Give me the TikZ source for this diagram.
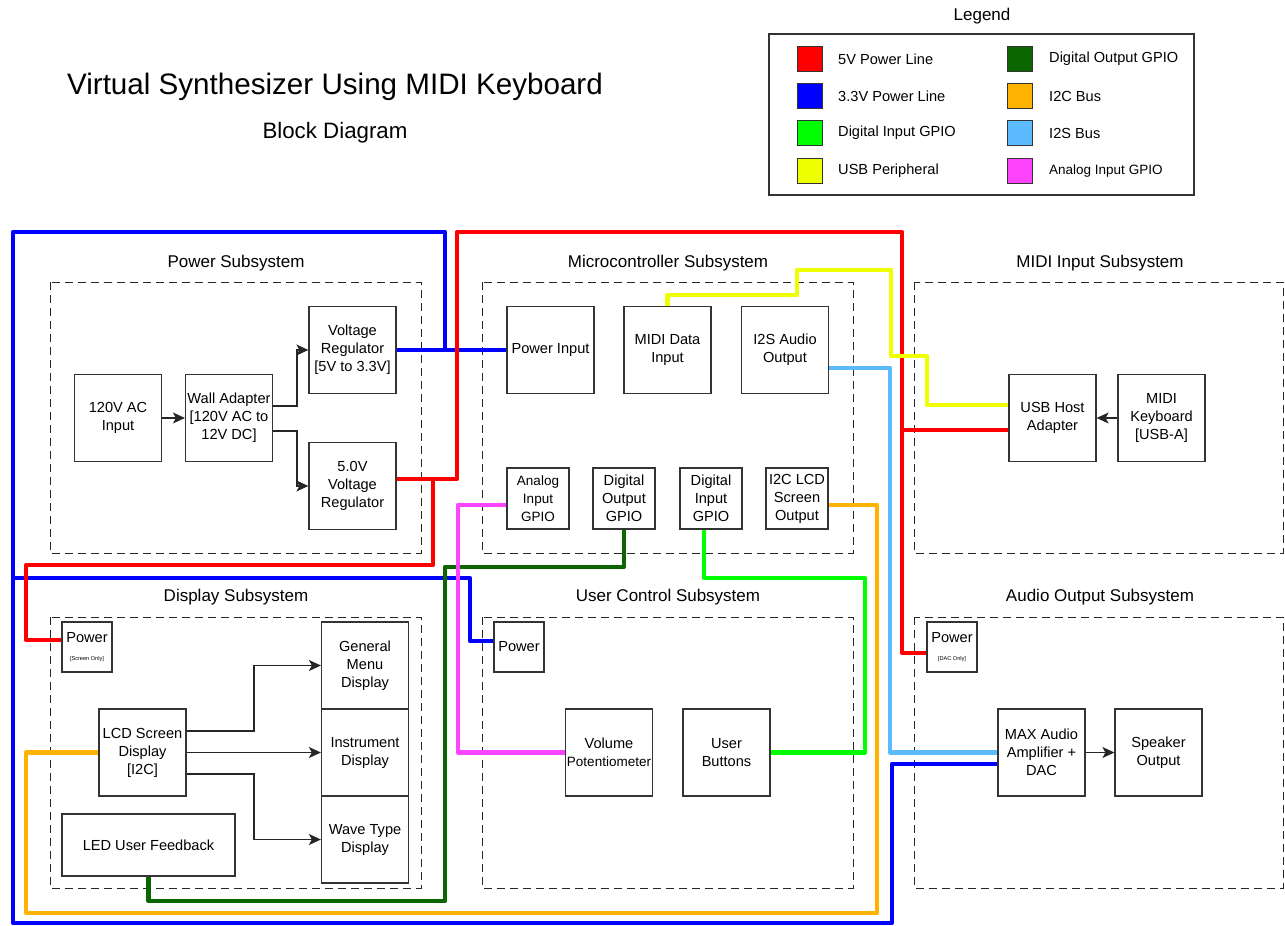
\documentclass[tikz,border=0pt]{standalone}
\usepackage{fontspec}
\setmainfont{Liberation Sans}
\usetikzlibrary{arrows.meta}

\definecolor{pwrfive}{HTML}{FF0000}
\definecolor{pwrthree}{HTML}{0000FF}
\definecolor{dinput}{HTML}{00FF00}
\definecolor{usbper}{HTML}{EEFF00}
\definecolor{doutput}{HTML}{0B6600}
\definecolor{itwoc}{HTML}{FFB300}
\definecolor{itwos}{HTML}{5CBBFF}
\definecolor{ainput}{HTML}{FF44FF}

\tikzset{
	blk/.style={draw=black!80, line width=1.2pt, minimum width=87pt, minimum height=87pt, inner sep=0pt, align=center, font=\fontsize{14.6}{18}\selectfont},
	gpio/.style={blk, minimum width=62pt, minimum height=61pt},
	pbox/.style={blk, minimum width=50pt, minimum height=50pt},
	grp/.style={draw=black!85, line width=1pt, dash pattern=on 8pt off 5pt},
	grptitle/.style={font=\fontsize{17}{20}\selectfont},
	wire/.style={line width=4.5pt, line join=round},
	arr/.style={draw=black!85, line width=1.2pt, -{Stealth[length=12pt,width=11pt,inset=3pt]}},
	swatch/.style={draw=black!80, line width=1pt, minimum size=25pt, inner sep=0pt},
	legtext/.style={anchor=west, inner sep=0pt, font=\fontsize{14.6}{18}\selectfont}
}

\begin{document}
\begin{tikzpicture}[x=1pt, y=-1pt]
	\useasboundingbox (0,0) rectangle (1285,926);

	\node[font=\fontsize{29.6}{34}\selectfont] (title) at (335,87) {Virtual Synthesizer Using MIDI Keyboard};
	\node[font=\fontsize{22.3}{26}\selectfont] (subtitle) at (335,133) {Block Diagram};

	\node[grptitle] (legtitle) at (982,16) {Legend};
	\draw[draw=black!80, line width=1.2pt] (769,34) rectangle (1194,195);
	\node[swatch, fill=pwrfive] (sw1) at (809.5,59) {};
	\node[legtext] (lg1) at (838,59) {5V Power Line};
	\node[swatch, fill=pwrthree] (sw2) at (809.5,96) {};
	\node[legtext] (lg2) at (838,96) {3.3V Power Line};
	\node[swatch, fill=dinput] (sw3) at (809.5,133) {};
	\node[legtext] (lg3) at (838,133) {Digital Input GPIO};
	\node[swatch, fill=usbper] (sw4) at (809.5,171) {};
	\node[legtext] (lg4) at (838,171) {USB Peripheral};
	\node[swatch, fill=doutput] (sw5) at (1020,59) {};
	\node[legtext] (lg5) at (1049,59) {Digital Output GPIO};
	\node[swatch, fill=itwoc] (sw6) at (1020,96) {};
	\node[legtext] (lg6) at (1049,96) {I2C Bus};
	\node[swatch, fill=itwos] (sw7) at (1020,133) {};
	\node[legtext] (lg7) at (1049,133) {I2S Bus};
	\node[swatch, fill=ainput] (sw8) at (1020,171) {};
	\node[legtext, font=\fontsize{13.5}{18}\selectfont] (lg8) at (1049,171) {Analog Input GPIO};

	\draw[grp] (50,282) rectangle (421,553);
	\draw[grp] (482,282) rectangle (853,553);
	\draw[grp] (914,282) rectangle (1283,553);
	\draw[grp] (50,617) rectangle (421,888);
	\draw[grp] (482,617) rectangle (853,888);
	\draw[grp] (914,617) rectangle (1283,888);
	\node[grptitle] (tpower) at (236,263) {Power Subsystem};
	\node[grptitle] (tmcu) at (668,263) {Microcontroller Subsystem};
	\node[grptitle] (tmidi) at (1100,263) {MIDI Input Subsystem};
	\node[grptitle] (tdisp) at (236,597) {Display Subsystem};
	\node[grptitle] (tuser) at (668,597) {User Control Subsystem};
	\node[grptitle] (taudio) at (1100,597) {Audio Output Subsystem};

	\node[blk] (acin) at (118,418) {120V AC\\Input};
	\node[blk] (wall) at (229,418) {Wall Adapter\\{[}120V AC to\\12V DC{]}};
	\node[blk] (vr33) at (352.5,350) {Voltage\\Regulator\\{[}5V to 3.3V{]}};
	\node[blk] (vr5) at (352.5,486) {5.0V\\Voltage\\Regulator};

	\node[blk] (pin) at (550.5,350) {Power Input};
	\node[blk] (midi) at (667.5,350) {MIDI Data\\Input};
	\node[blk] (i2s) at (785,350) {I2S Audio\\Output};
	\node[gpio, font=\fontsize{13.5}{18}\selectfont] (ain) at (538,498.5) {Analog\\Input\\GPIO};
	\node[gpio] (dout) at (624,498.5) {Digital\\Output\\GPIO};
	\node[gpio] (din) at (711,498.5) {Digital\\Input\\GPIO};
	\node[gpio] (i2c) at (797,498.5) {I2C LCD\\Screen\\Output};

	\node[blk] (usb) at (1052.5,418) {USB Host\\Adapter};
	\node[blk] (kbd) at (1161.5,418) {MIDI\\Keyboard\\{[}USB-A{]}};

	\node[pbox] (scrpwr) at (87,647) {Power\\{\fontsize{5.6}{6}\selectfont [Screen Only]}};
	\node[blk] (lcd) at (142.5,752.5) {LCD Screen\\Display\\{[}I2C{]}};
	\node[blk, minimum width=173pt, minimum height=62pt] (led) at (148.5,845) {LED User Feedback};
	\node[blk] (menu) at (365,665.5) {General\\Menu\\Display};
	\node[blk] (inst) at (365,752.5) {Instrument\\Display};
	\node[blk] (wave) at (365,839.5) {Wave Type\\Display};

	\node[pbox] (ucpwr) at (519,647) {Power};
	\node[blk] (pot) at (609,752.5) {Volume\\{\fontsize{13.5}{18}\selectfont Potentiometer}};
	\node[blk] (btn) at (726.5,752.5) {User\\Buttons};

	\node[pbox] (dacpwr) at (952,647) {Power\\{\fontsize{5.6}{6}\selectfont [DAC Only]}};
	\node[blk] (amp) at (1041.5,752.5) {MAX Audio\\Amplifier +\\DAC};
	\node[blk] (spk) at (1158.5,752.5) {Speaker\\Output};

	\draw[arr] (acin.east) -- (wall.west);
	\draw[arr] ([yshift=12pt]wall.east) -- (297,406) |- (vr33.west);
	\draw[arr] ([yshift=-13pt]wall.east) -- (297,431) |- (vr5.west);
	\draw[arr] ([yshift=21.5pt]lcd.east) -- (254,731) |- (menu.west);
	\draw[arr] (lcd.east) -- (inst.west);
	\draw[arr] ([yshift=-21.5pt]lcd.east) -- (254,774) |- (wave.west);
	\draw[arr] (kbd.west) -- (usb.east);
	\draw[arr] (amp.east) -- (spk.west);

	\coordinate (bj1) at (445,350);
	\coordinate (bj2) at (13,578);
	\coordinate (rj1) at (902,430);
	\coordinate (rj2) at (433,479);
	\draw[wire, pwrthree] (vr33.east) -- (pin.west);
	\draw[wire, pwrthree] (bj1) -- (445,232) -- (13,232) -- (13,923) -- (892,923) -- (892,764) -- ([yshift=-11.5pt]amp.west);
	\draw[wire, pwrthree] (bj2) -- (470,578) -- (470,641) -- ([yshift=6pt]ucpwr.west);
	\draw[wire, pwrfive] ([yshift=7pt]vr5.east) -- (457,479) -- (457,232) -- (902,232) -- (902,653) -- ([yshift=-6pt]dacpwr.west);
	\draw[wire, pwrfive] (rj1) -- ([yshift=-12pt]usb.west);
	\draw[wire, pwrfive] (rj2) -- (433,565) -- (26,565) -- (26,640) -- ([yshift=7pt]scrpwr.west);
	\draw[wire, usbper] (midi.north) -- (667.5,295) -- (797,295) -- (797,270) -- (891,270) -- (891,356) -- (927,356) -- (927,405) -- ([yshift=13pt]usb.west);
	\draw[wire, itwos] ([yshift=-18pt]i2s.east) -- (890,368) -- (890,752.5) -- (amp.west);
	\draw[wire, itwoc] ([yshift=-6.5pt]i2c.east) -- (877,505) -- (877,913) -- (26,913) -- (26,752.5) -- (lcd.west);
	\draw[wire, doutput] (dout.south) -- (624,567) -- (445,567) -- (445,901) -- (148.5,901) -- (led.south);
	\draw[wire, dinput] ([xshift=-7pt]din.south) -- (704,578) -- (865,578) -- (865,752.5) -- (btn.east);
	\draw[wire, ainput] ([yshift=-6.5pt]ain.west) -- (458,505) -- (458,752.5) -- (pot.west);
\end{tikzpicture}
\end{document}
